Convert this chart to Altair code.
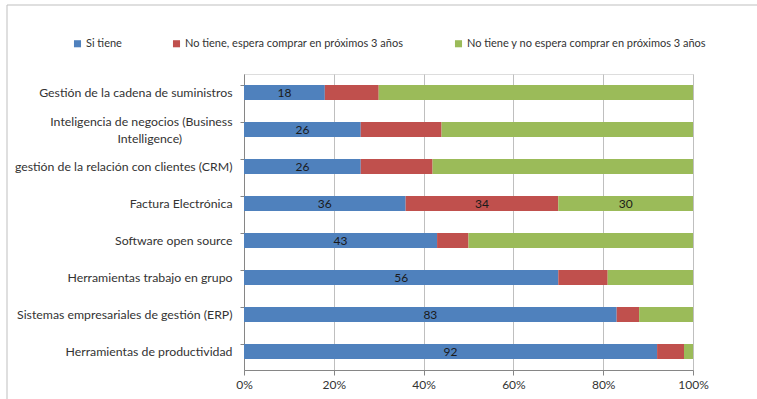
import altair as alt
import pandas as pd

categories = [
    "Gestión de la cadena de suministros",
    "Inteligencia de negocios (Business Intelligence)",
    "gestión de la relación con clientes (CRM)",
    "Factura Electrónica",
    "Software open source",
    "Herramientas trabajo en grupo",
    "Sistemas empresariales de gestión (ERP)",
    "Herramientas de productividad",
]
series = [
    "Si tiene",
    "No tiene, espera comprar en próximos 3 años",
    "No tiene y no espera comprar en próximos 3 años",
]
si_tiene = [18, 26, 26, 36, 43, 70, 83, 92]
espera = [12, 18, 16, 34, 7, 11, 5, 6]
no_espera = [70, 56, 58, 30, 50, 19, 12, 2]
si_tiene_labels = ["18", "26", "26", "36", "43", "56", "83", "92"]
espera_labels = ["", "", "", "34", "", "", "", ""]
no_espera_labels = ["", "", "", "30", "", "", "", ""]
colors = ["#4F81BD", "#C0504D", "#9BBB59"]

rows = []
for vals, labs, s_idx in [(si_tiene, si_tiene_labels, 0), (espera, espera_labels, 1), (no_espera, no_espera_labels, 2)]:
    for c, v, l in zip(categories, vals, labs):
        rows.append({"cat": c, "serie": series[s_idx], "ord": s_idx, "value": v, "label": l})
df = pd.DataFrame(rows)

FONT = "Lato"
TXT = "#333333"
BI = "Inteligencia de negocios (Business Intelligence)"
pad = "\u00a0" * 16 + "\u200b"

base = alt.Chart(df).transform_stack(
    stack="value", groupby=["cat"], as_=["v0", "v1"], offset="normalize",
    sort=[alt.SortField("ord", order="ascending")]
).transform_calculate(mid="(datum.v0 + datum.v1) / 2")

ycat = alt.Y("cat:N", sort=categories, title=None,
             scale=alt.Scale(paddingInner=0.6, paddingOuter=0.3),
             axis=alt.Axis(labelFont=FONT, labelFontSize=12.3, labelColor=TXT,
                           domainColor="#868686", tickColor="#868686", tickSize=4,
                           labelPadding=8, bandPosition=0, grid=False, labelLimit=300,
                           labelLineHeight=17,
                           labelOffset={"condition": {"test": f"datum.value == '{BI}'", "value": -8}, "value": 0},
                           labelExpr=f"datum.label == '{BI}' ? ['Inteligencia de negocios (Business', 'Intelligence){pad}'] : datum.label"))

bars = base.mark_bar(size=15).encode(
    y=ycat,
    x=alt.X("v0:Q", scale=alt.Scale(domain=[0, 1], nice=False), title=None,
            axis=alt.Axis(format=".0%", values=[0, 0.2, 0.4, 0.6, 0.8, 1.0],
                          labelFont=FONT, labelFontSize=12, labelColor=TXT,
                          domainColor="#868686", tickColor="#868686", tickSize=5,
                          gridColor="#BFBFBF", grid=True, labelPadding=4,
                          labelFlush=False)),
    x2="v1:Q",
    color=alt.Color("serie:N", sort=series,
                    scale=alt.Scale(domain=series, range=colors),
                    legend=alt.Legend(title=None, orient="none", direction="horizontal",
                                      legendX=-172, legendY=-36, symbolType="square",
                                      symbolSize=50, symbolStrokeWidth=0,
                                      labelFont=FONT, labelFontSize=11, labelColor=TXT,
                                      columnPadding=49, labelOffset=3, labelLimit=400)),
    order=alt.Order("ord:Q"),
)

texts = base.transform_filter("datum.label != ''").mark_text(
    font=FONT, fontSize=12, color="#1a1a1a", baseline="middle", align="center"
).encode(
    y=alt.Y("cat:N", sort=categories),
    x=alt.X("mid:Q"),
    text="label:N",
)

border_df = pd.DataFrame({"k": [0]})
left_border = alt.Chart(border_df).mark_rule(color="#BFBFBF", strokeWidth=1).encode(
    x=alt.value(-237), y=alt.value(-69), y2=alt.value(340))
top_border = alt.Chart(border_df).mark_rule(color="#BFBFBF", strokeWidth=1).encode(
    x=alt.value(-237), x2=alt.value(520), y=alt.value(-69))

chart = alt.layer(bars, texts, left_border, top_border).properties(
    width=449, height=296,
    autosize=alt.AutoSizeParams(type="none"),
    padding={"left": 244, "top": 74, "right": 64, "bottom": 29},
).configure_view(stroke=None).configure(background="white")

chart.save("out.html", embed_options={"renderer": "svg", "actions": False})
